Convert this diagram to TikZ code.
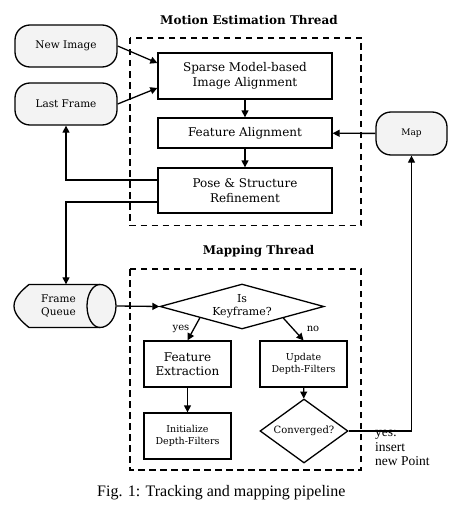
\documentclass[tikz,border=0pt]{standalone}
\usepackage{fontspec}
\setmainfont{DejaVu Serif}
\newfontfamily\timesf{Liberation Serif}
\usetikzlibrary{shapes.geometric,arrows.meta,calc}
\definecolor{termfill}{HTML}{F3F3F3}
\tikzset{
  line/.style={line width=1.3pt},
  arr/.style={line, -{Triangle[length=7pt,width=7pt]}},
  procbox/.style={draw, line width=1.3pt, rectangle, inner sep=0pt, align=center},
  term/.style={draw, line width=1.3pt, rectangle, rounded corners=15pt, fill=termfill, inner sep=0pt, align=center, font=\fontsize{10.5}{13}\selectfont},
  decide/.style={draw, line width=1.3pt, diamond, inner sep=0pt},
  thread/.style={draw, line width=1.2pt, dash pattern=on 6.5pt off 4.5pt},
  ttl/.style={font=\fontsize{12}{14}\selectfont\bfseries},
}
\begin{document}
\begin{tikzpicture}[x=1pt,y=-1pt]
\useasboundingbox (0,0) rectangle (465,511);
% thread frames
\draw[thread] (130,38) rectangle (361,225.5);
\draw[thread] (130,269) rectangle (361,470);
\node[ttl] (t1) at (249,20) {Motion Estimation Thread};
\node[ttl] (t2) at (258.5,251) {Mapping Thread};
% motion estimation
\node[term, minimum width=102pt, minimum height=42pt] (ni) at (66,46) {New Image};
\node[term, minimum width=102pt, minimum height=42pt] (lf) at (66,104) {Last Frame};
\node[procbox, minimum width=174pt, minimum height=46pt, font=\fontsize{12}{14.5}\selectfont] (sma) at (245,76) {Sparse Model-based\\Image Alignment};
\node[procbox, minimum width=174pt, minimum height=30pt, font=\fontsize{12}{14.5}\selectfont] (fa) at (245,133) {Feature Alignment};
\node[procbox, minimum width=174pt, minimum height=45pt, font=\fontsize{12}{14.5}\selectfont] (psr) at (245,190.5) {Pose \& Structure\\Refinement};
\node[term, rounded corners=15pt, minimum width=71pt, minimum height=43pt, font=\fontsize{9}{11}\selectfont] (map) at (411.5,133.5) {Map};
% frame queue
\node[minimum width=101pt, minimum height=43pt, inner sep=0pt] (fq) at (66,306) {};
\filldraw[line, fill=termfill, line join=round]
  (100,284.5) -- (29,284.5) .. controls (21,291) and (14,298) .. (14,306)
  .. controls (14,314) and (21,321) .. (29,327.5) -- (100,327.5)
  .. controls (108.8,327.5) and (116,317.9) .. (116,306)
  .. controls (116,294.1) and (108.8,284.5) .. (100,284.5) -- cycle;
\draw[line] (100,284.5) .. controls (92.8,284.5) and (87,294.1) .. (87,306)
  .. controls (87,317.9) and (92.8,327.5) .. (100,327.5);
\node[align=center, font=\fontsize{10.5}{13}\selectfont] (fqt) at (58.5,306) {Frame\\Queue};
% mapping
\node[decide, minimum width=164pt, minimum height=45pt] (kf) at (242,306.5) {};
\node[align=center, font=\fontsize{11}{13}\selectfont] (kft) at (242,306.5) {Is\\Keyframe?};
\node[procbox, minimum width=87pt, minimum height=46pt, font=\fontsize{12}{14.5}\selectfont] (fe) at (187.5,364) {Feature\\Extraction};
\node[procbox, minimum width=87pt, minimum height=46pt, font=\fontsize{9.5}{12}\selectfont] (ud) at (303.5,364) {Update\\Depth-Filters};
\node[procbox, minimum width=87pt, minimum height=46pt, font=\fontsize{9.5}{12}\selectfont] (idf) at (187.5,436) {Initialize\\Depth-Filters};
\node[decide, minimum width=88pt, minimum height=64pt] (conv) at (304,431) {};
\node[font=\fontsize{10}{12}\selectfont] (convt) at (304,431) {Converged?};
% connectors
\draw[arr] (ni.east) -- ($(sma.west)+(0,-13)$);
\draw[arr] (lf.east) -- ($(sma.west)+(0,12)$);
\draw[arr] (sma) -- (fa);
\draw[arr] (fa) -- (psr);
\draw[arr] (map) -- (fa);
\draw[arr] ($(psr.west)+(0,-10.5)$) -| (lf.south);
\draw[arr] ($(psr.west)+(0,11.5)$) -| (fq.north);
\draw[arr] (fq.east) -- (kf.west);
\draw[arr] ($(kf.west)!0.49!(kf.south)$) -- (fe.north);
\draw[arr] ($(kf.east)!0.5!(kf.south)$) -- (ud.north);
\draw[arr] (fe) -- (idf);
\draw[arr] (ud) -- (conv);
\draw[arr] (conv.east) -| (map.south);
\node[font=\fontsize{10}{12}\selectfont] (yes) at (181,328.5) {yes};
\node[font=\fontsize{10}{12}\selectfont] (no) at (313,328.5) {no};
\node[anchor=north west, align=left, inner sep=0pt, font=\timesf\fontsize{13.5}{14.5}\selectfont] (ins) at (375,430) {yes:\\insert\\new Point};
\node[font=\timesf\fontsize{16}{18}\selectfont, anchor=west, inner sep=0pt] (cap) at (97,493) {Fig. 1: Tracking and mapping pipeline};
\end{tikzpicture}
\end{document}
